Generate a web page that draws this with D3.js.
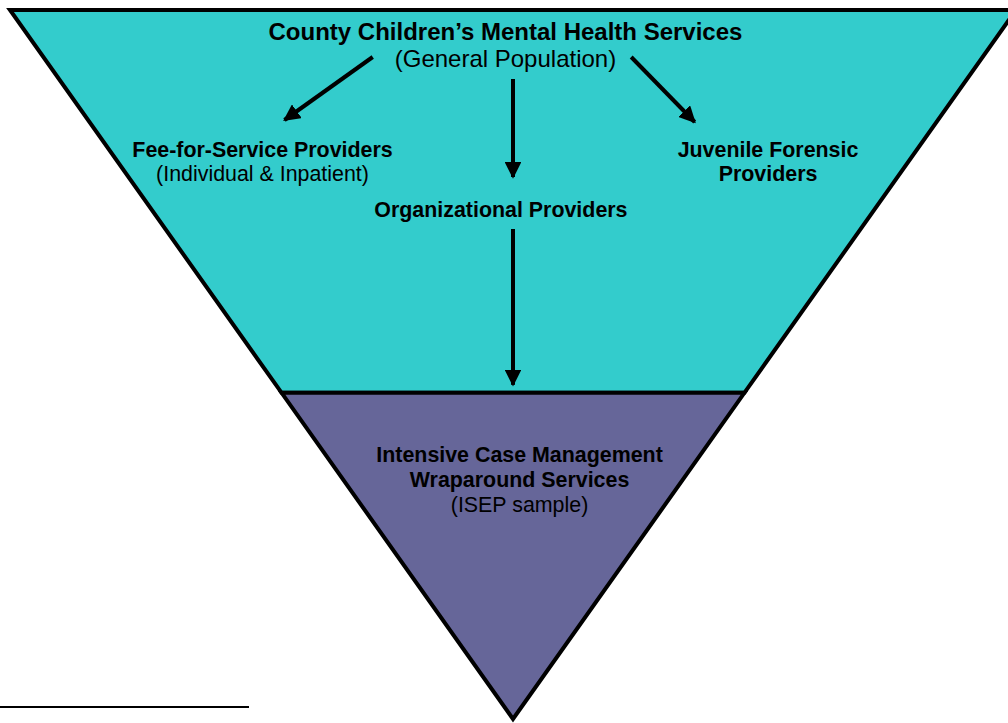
<!DOCTYPE html>
<html>
<head>
<meta charset="utf-8">
<script src="https://cdn.jsdelivr.net/npm/d3@7"></script>
<style>
  html, body { margin: 0; padding: 0; background: #fff; }
  svg { display: block; font-family: Arial, "Liberation Sans", sans-serif; }
</style>
</head>
<body>
<svg id="chart"></svg>
<script>
// tiers of the funnel: fraction of height where each band ends
const tierNames = ['County services', 'ISEP sample'];
const tierBreaks = [0, 0.54, 1];
const tierColors = ['#33CCCC', '#666699'];

// boxes of text (col/row are grid slots, lines are [text, bold])
const nodeIds = ['county', 'ffs', 'org', 'juv', 'icm'];
const nodeLines = [
  [['County Children\u2019s Mental Health Services', true], ['(General Population)', false]],
  [['Fee-for-Service Providers', true], ['(Individual & Inpatient)', false]],
  [['Organizational Providers', true]],
  [['Juvenile Forensic', true], ['Providers', true]],
  [['Intensive Case Management', true], ['Wraparound Services', true], ['(ISEP sample)', false]]
];
const nodeCol = [0.4925, 0.251, 0.488, 0.7535, 0.5065];
const nodeRow = [0, 1, 2, 1, 3];

// arrows between boxes and which side they leave / enter
const linkFrom = ['county', 'county', 'county', 'org'];
const linkTo   = ['ffs', 'org', 'juv', 'icm'];
const linkOut  = ['left', 'bottom', 'right', 'bottom'];
const linkIn   = ['topRight', 'top', 'topLeft', 'tier'];

const W = 1008, H = 723;
const svg = d3.select('#chart').attr('width', W).attr('height', H);

const topY = 10, apexY = 719, leftX = 10, apexX = 513;
const rightX = apexX + (apexX - leftX);
const yTier = d3.scaleLinear().domain([0, 1]).range([topY, apexY]);
const x = d3.scaleLinear().domain([0, 1]).range([leftX, rightX]);
const halfAt = y => (apexX - leftX) * (apexY - y) / (apexY - topY);

// funnel bands
tierNames.forEach((name, i) => {
  const y0 = yTier(tierBreaks[i]), y1 = yTier(tierBreaks[i + 1]);
  const pts = [[apexX - halfAt(y0), y0], [apexX + halfAt(y0), y0],
               [apexX + halfAt(y1), y1], [apexX - halfAt(y1), y1]];
  svg.append('path')
    .attr('class', 'tier')
    .attr('d', d3.line()(pts) + 'Z')
    .attr('fill', tierColors[i])
    .attr('stroke', '#000')
    .attr('stroke-width', 4)
    .attr('stroke-linejoin', 'miter');
});

// row baselines (first line of each box)
const yRow = d3.scaleOrdinal().domain([0, 1, 2, 3]).range([40, 157, 217, 462]);
const fontSize = [24, 21.4, 21.4, 21.4, 21.4];
const lineGap = [27, 24, 24, 24, 25];

const nodeBox = {};
nodeIds.forEach((id, i) => {
  const cx = x(nodeCol[i]);
  const by = yRow(nodeRow[i]);
  const t = svg.append('text')
    .attr('text-anchor', 'middle')
    .attr('font-size', fontSize[i]);
  const spans = [];
  nodeLines[i].forEach((ln, j) => {
    spans.push(t.append('tspan')
      .attr('x', cx)
      .attr('y', by + j * lineGap[i])
      .attr('font-weight', ln[1] ? 'bold' : 'normal')
      .text(ln[0]));
  });
  const b = t.node().getBBox();
  const last = spans[spans.length - 1].node().getBBox();
  nodeBox[id] = {cx: cx, base: by, lastBase: by + (spans.length - 1) * lineGap[i],
                 left: b.x, right: b.x + b.width,
                 lastLeft: last.x, lastRight: last.x + last.width};
});

svg.append('defs').append('marker')
  .attr('id', 'head')
  .attr('viewBox', '0 0 10 10')
  .attr('refX', 9).attr('refY', 5)
  .attr('markerWidth', 4.2).attr('markerHeight', 4.2)
  .attr('markerUnits', 'strokeWidth')
  .attr('orient', 'auto')
  .append('path')
  .attr('d', 'M0,0L10,5L0,10Z')
  .attr('fill', '#000');

const divY = yTier(tierBreaks[1]);
const startPt = (b, side) => {
  if (side === 'left') return [b.lastLeft - 22, b.lastBase - 10];
  if (side === 'right') return [b.lastRight + 15, b.lastBase - 10];
  return [apexX, b.lastBase + 12];
};
const endPt = (b, side) => {
  if (side === 'topRight') return [b.cx + 22, b.base - 37];
  if (side === 'topLeft') return [b.left + 17, b.base - 35];
  if (side === 'top') return [apexX, b.base - 40];
  return [apexX, divY - 8];
};

linkFrom.forEach((f, i) => {
  const s = startPt(nodeBox[f], linkOut[i]);
  const e = endPt(nodeBox[linkTo[i]], linkIn[i]);
  svg.append('line')
    .attr('x1', s[0]).attr('y1', s[1])
    .attr('x2', e[0]).attr('y2', e[1])
    .attr('stroke', '#000')
    .attr('stroke-width', 4)
    .attr('marker-end', 'url(#head)');
});

// footnote rule
svg.append('line')
  .attr('x1', 0).attr('x2', 249)
  .attr('y1', 707).attr('y2', 707)
  .attr('stroke', '#000').attr('stroke-width', 2);
</script>
</body>
</html>
